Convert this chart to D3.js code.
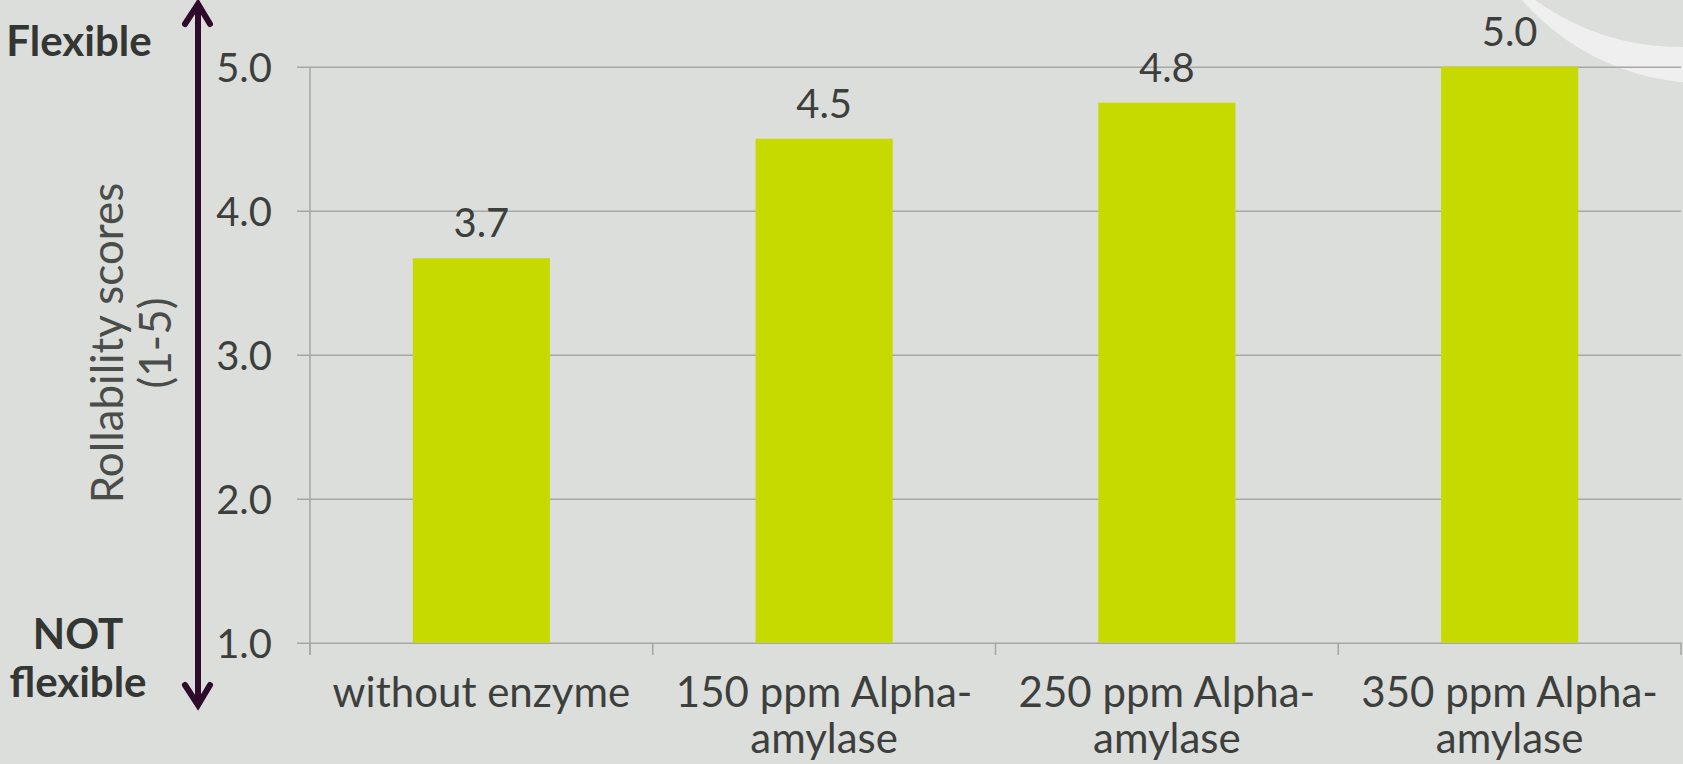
<!DOCTYPE html>
<html>
<head>
<meta charset="utf-8">
<script src="https://cdn.jsdelivr.net/npm/d3@7"></script>
<style>
  html, body { margin: 0; padding: 0; background: #dcdedb; }
  svg { display: block; }
  text { font-family: Lato, "Open Sans", "Liberation Sans", sans-serif; }
</style>
</head>
<body>
<svg id="chart" width="1683" height="764"></svg>
<script>
// Rollability scores per enzyme dosage
const categories = ["without enzyme", "150 ppm Alpha-amylase", "250 ppm Alpha-amylase", "350 ppm Alpha-amylase"];
const categoryLines = [["without enzyme"], ["150 ppm Alpha-", "amylase"], ["250 ppm Alpha-", "amylase"], ["350 ppm Alpha-", "amylase"]];
const scores = [3.67, 4.5, 4.75, 5.0];
const yTicks = [1, 2, 3, 4, 5];
const yTitleLines = ["Rollability scores", "(1-5)"];
const topLabel = ["Flexible"];
const bottomLabel = ["NOT", "flexible"];

const W = 1683, H = 764;
const plot = { left: 310, right: 1681, top: 66.7, bottom: 642.7 };

const svg = d3.select("#chart");

// background
svg.append("rect").attr("width", W).attr("height", H).attr("fill", "#dcdedb");

// decorative ring in the upper right corner
const ring = d3.path();
ring.arc(1705, -160, 243, 0, 2 * Math.PI);
ring.closePath();
ring.moveTo(1680 + 247, -200);
ring.arc(1680, -200, 247, 0, 2 * Math.PI);
ring.closePath();
svg.append("path")
  .attr("d", ring.toString())
  .attr("fill", "#eeefee")
  .attr("fill-rule", "evenodd");

const x = d3.scaleBand()
  .domain(categories)
  .range([plot.left, plot.right])
  .paddingInner(0.6)
  .paddingOuter(0.3);

const y = d3.scaleLinear()
  .domain([1, 5])
  .range([plot.bottom, plot.top]);

// y axis with full-width gridlines
const tickOverhang = 13;
const yAxis = d3.axisLeft(y)
  .tickValues(yTicks)
  .tickFormat(d3.format(".1f"))
  .tickSizeInner(-(plot.right - plot.left + tickOverhang))
  .tickSizeOuter(0)
  .tickPadding(25);

const gy = svg.append("g")
  .attr("transform", `translate(${plot.left - tickOverhang},0)`)
  .call(yAxis);
gy.select(".domain").remove();
gy.selectAll(".tick line").attr("stroke", "#a8a7a7").attr("stroke-width", 1.6);
gy.selectAll(".tick text")
  .attr("fill", "#3d3f3d")
  .attr("font-size", 40)
  .attr("font-family", "Lato, sans-serif")
  .attr("dy", "0.36em");

// vertical axis line
svg.append("line")
  .attr("x1", plot.left).attr("x2", plot.left)
  .attr("y1", y(5)).attr("y2", plot.bottom + 12.3)
  .attr("stroke", "#a8a7a7").attr("stroke-width", 1.6);

// category boundary ticks along the x axis
const boundaries = categories.map(c => x(c) - x.step() * x.paddingOuter()).concat([plot.right]);
svg.append("g").selectAll("line")
  .data(boundaries)
  .join("line")
  .attr("x1", d => d).attr("x2", d => d)
  .attr("y1", plot.bottom).attr("y2", plot.bottom + 12.3)
  .attr("stroke", "#a8a7a7").attr("stroke-width", 1.6);

// bars
svg.append("g").selectAll("rect")
  .data(scores)
  .join("rect")
  .attr("x", (d, i) => x(categories[i]))
  .attr("width", x.bandwidth())
  .attr("y", d => y(d))
  .attr("height", d => y(1) - y(d))
  .attr("fill", "#c6da00");

// value labels
svg.append("g").selectAll("text")
  .data(scores)
  .join("text")
  .attr("x", (d, i) => x(categories[i]) + x.bandwidth() / 2)
  .attr("y", d => y(d) - 21)
  .attr("text-anchor", "middle")
  .attr("font-size", 40)
  .attr("fill", "#3d3f3d")
  .text(d => d3.format(".1f")(d));

// category labels
const catG = svg.append("g").selectAll("text")
  .data(categoryLines)
  .join("text")
  .attr("text-anchor", "middle")
  .attr("font-size", 42)
  .attr("fill", "#3d3f3d")
  .attr("transform", (d, i) => `translate(${x(categories[i]) + x.bandwidth() / 2},706.7)`);
catG.selectAll("tspan")
  .data(d => d)
  .join("tspan")
  .attr("x", 0)
  .attr("y", (d, i) => i * 46)
  .text(d => d);

// y axis title
const yTitle = svg.append("text")
  .attr("transform", "translate(123,343) rotate(-90)")
  .attr("text-anchor", "middle")
  .attr("font-size", 44)
  .attr("font-weight", 400)
  .attr("fill", "#4a4c4a");
yTitle.selectAll("tspan")
  .data(yTitleLines)
  .join("tspan")
  .attr("x", 0)
  .attr("y", (d, i) => i * 48)
  .text(d => d);

// scale direction arrow
const arrowColor = "#2e0a2b";
const arrowX = 198;
svg.append("line")
  .attr("x1", arrowX).attr("x2", arrowX)
  .attr("y1", 4).attr("y2", 706)
  .attr("stroke", arrowColor).attr("stroke-width", 6);
svg.append("path")
  .attr("d", `M${arrowX - 13},24 L${arrowX},4 L${arrowX + 12},24`)
  .attr("fill", "none").attr("stroke", arrowColor).attr("stroke-width", 6)
  .attr("stroke-linecap", "round");
svg.append("path")
  .attr("d", `M${arrowX - 13},685 L${arrowX},705 L${arrowX + 12},685`)
  .attr("fill", "none").attr("stroke", arrowColor).attr("stroke-width", 6)
  .attr("stroke-linecap", "round");

// end labels of the arrow
svg.append("text")
  .attr("x", 79).attr("y", 56)
  .attr("text-anchor", "middle")
  .attr("font-size", 42).attr("font-weight", 700)
  .attr("fill", "#333633")
  .text(topLabel[0]);
svg.append("text")
  .attr("text-anchor", "middle")
  .attr("font-size", 42).attr("font-weight", 700)
  .attr("fill", "#333633")
  .selectAll("tspan")
  .data(bottomLabel)
  .join("tspan")
  .attr("x", 78)
  .attr("y", (d, i) => 649.3 + i * 48)
  .text(d => d);
</script>
</body>
</html>
